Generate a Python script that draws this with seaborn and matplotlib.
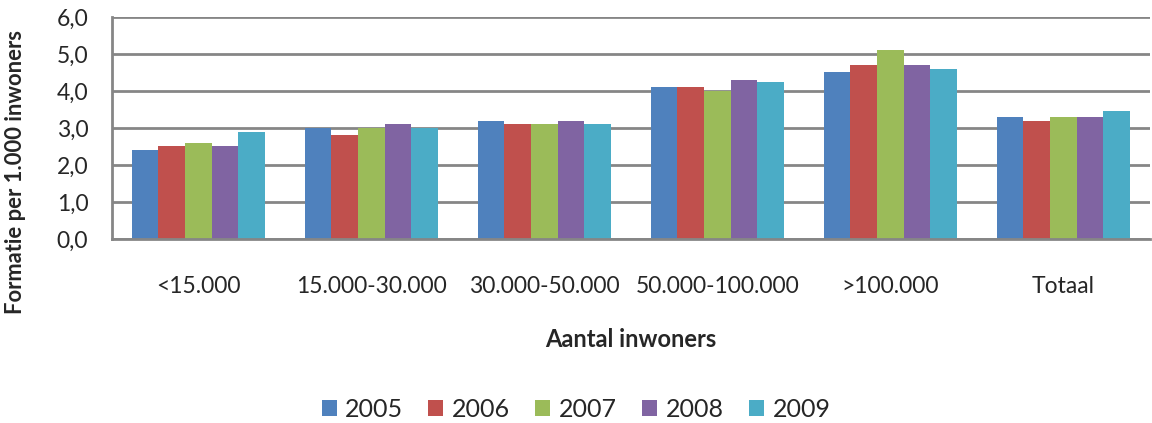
import pandas as pd
import numpy as np
import matplotlib.pyplot as plt
import seaborn as sns
from matplotlib.ticker import FuncFormatter, FixedLocator


# categories on the x axis (population size)
categories = ['<15.000', '15.000-30.000', '30.000-50.000', '50.000-100.000', '>100.000', 'Totaal']
years = ['2005', '2006', '2007', '2008', '2009']

# values, one list per year
v2005 = [2.4, 3.0, 3.2, 4.1, 4.5, 3.3]
v2006 = [2.5, 2.8, 3.1, 4.1, 4.7, 3.2]
v2007 = [2.6, 3.0, 3.1, 4.0, 5.1, 3.3]
v2008 = [2.5, 3.1, 3.2, 4.3, 4.7, 3.3]
v2009 = [2.9, 3.0, 3.1, 4.24, 4.6, 3.45]

colors = ['#4F81BD', '#C0504D', '#9BBB59', '#8064A2', '#4BACC6']

data = pd.DataFrame({
    'categorie': categories * len(years),
    'jaar': np.repeat(years, len(categories)),
    'waarde': v2005 + v2006 + v2007 + v2008 + v2009,
})

sns.set_style('white')
plt.rcParams['font.family'] = ['Lato', 'DejaVu Sans']

fig = plt.figure(figsize=(11.52, 4.23), dpi=100)
ax = fig.add_axes([0.0972, 0.435, 0.9008, 0.525])

sns.barplot(data, x='categorie', y='waarde', hue='jaar', order=categories,
            hue_order=years, palette=colors, width=0.77, saturation=1,
            edgecolor='none', ax=ax, legend=True)

grid_col = '#868686'
ax.set_ylim(0, 6)
ax.set_xlim(-0.5, len(categories) - 0.5)
ax.set_yticks(np.arange(0, 7, 1))
ax.yaxis.set_major_formatter(FuncFormatter(lambda v, p: f'{v:.1f}'.replace('.', ',')))
ax.yaxis.grid(True, color=grid_col, linewidth=2)
ax.set_axisbelow(True)

for s in ['top', 'right']:
    ax.spines[s].set_visible(False)
for s in ['left', 'bottom']:
    ax.spines[s].set_color(grid_col)
    ax.spines[s].set_linewidth(2)

# tick marks between the categories, labels without marks
ax.xaxis.set_minor_locator(FixedLocator(np.arange(-0.5, len(categories), 1)))
ax.tick_params(axis='x', which='minor', length=6, width=1.5, color=grid_col, direction='out')
ax.tick_params(axis='x', which='major', length=0, pad=27, labelsize=16.5)
ax.tick_params(axis='y', length=5, width=1.5, color=grid_col, pad=12, labelsize=16.5)

ax.set_xlabel('Aantal inwoners', fontsize=17, fontweight='bold', labelpad=22)
ax.set_ylabel('Formatie per 1.000 inwoners', fontsize=15.8, fontweight='bold')
ax.yaxis.set_label_coords(-0.083, 0.3)

handles, labels = ax.get_legend_handles_labels()
ax.get_legend().remove()
fig.legend(handles, labels, loc='center', bbox_to_anchor=(0.5, 0.032), ncol=5,
           frameon=False, fontsize=18, handlelength=0.6, handleheight=0.6,
           handletextpad=0.35, columnspacing=1.0)

fig.savefig('out.png', dpi=100)
